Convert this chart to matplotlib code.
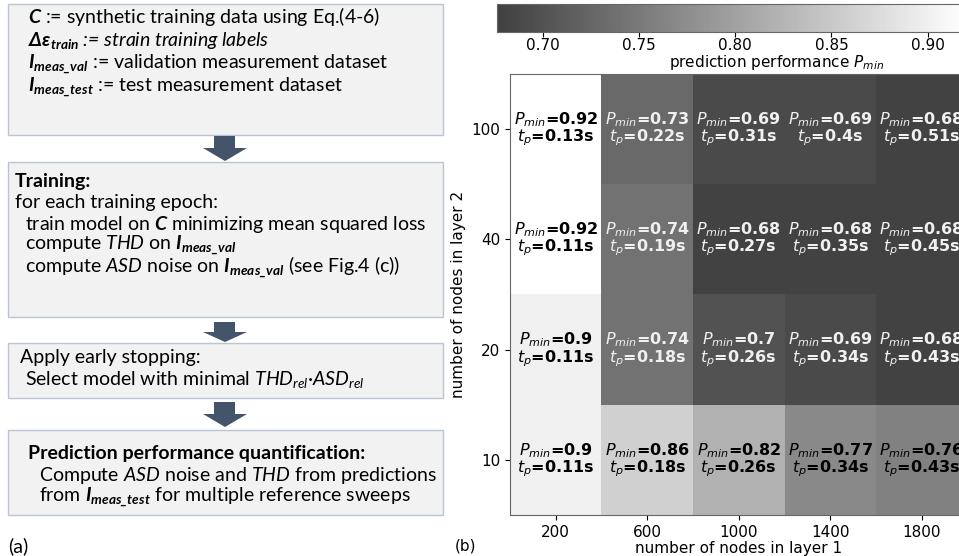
import matplotlib.pyplot as plt
import numpy as np
from matplotlib.colors import LinearSegmentedColormap
from matplotlib.patches import Rectangle, Polygon

# heatmap data (b)
layer1_nodes = [200, 600, 1000, 1400, 1800]
layer2_nodes = [100, 40, 20, 10]
p_min = [[0.92, 0.73, 0.69, 0.69, 0.68],
         [0.92, 0.74, 0.68, 0.68, 0.68],
         [0.90, 0.74, 0.70, 0.69, 0.68],
         [0.90, 0.86, 0.82, 0.77, 0.76]]
t_p = [[0.13, 0.22, 0.31, 0.40, 0.51],
       [0.11, 0.19, 0.27, 0.35, 0.45],
       [0.11, 0.18, 0.26, 0.34, 0.43],
       [0.11, 0.18, 0.26, 0.34, 0.43]]
cbar_ticks = [0.70, 0.75, 0.80, 0.85, 0.90]
p_lo, p_hi = 0.676, 0.92

# flow chart text (a)
box_lines = [
    [(28, 23, r"$\mathbfit{C}$ := synthetic training data using Eq.(4-6)", "normal", "normal"),
     (28, 46, r"$\mathbfit{\Delta\varepsilon}_{\mathbfit{train}}$ := strain training labels", "normal", "italic"),
     (28, 69, r"$\mathbfit{I}_{\mathbfit{meas\_val}}$ := validation measurement dataset", "normal", "normal"),
     (28, 92, r"$\mathbfit{I}_{\mathbfit{meas\_test}}$ := test measurement dataset", "normal", "normal")],
    [(15, 187, "Training:", "bold", "normal"),
     (15, 208, "for each training epoch:", "normal", "normal"),
     (25, 230, r"train model on $\mathbfit{C}$ minimizing mean squared loss", "normal", "normal"),
     (25, 250, r"compute $\mathit{THD}$ on $\mathbfit{I}_{\mathbfit{meas\_val}}$", "normal", "normal"),
     (25, 273, r"compute $\mathit{ASD}$ noise on $\mathbfit{I}_{\mathbfit{meas\_val}}$ (see Fig.4 (c))", "normal", "normal")],
    [(20, 363, "Apply early stopping:", "normal", "normal"),
     (25, 385, r"Select model with minimal $\mathit{THD}_{\mathit{rel}}$·$\mathit{ASD}_{\mathit{rel}}$", "normal", "normal")],
    [(28, 459, "Prediction performance quantification:", "bold", "normal"),
     (39, 481, r"Compute $\mathit{ASD}$ noise and $\mathit{THD}$ from predictions", "normal", "normal"),
     (39, 502, r"from $\mathbfit{I}_{\mathbfit{meas\_test}}$ for multiple reference sweeps", "normal", "normal")],
]

plt.rcParams['mathtext.fontset'] = 'dejavusans'
plt.rcParams['mathtext.rm'] = 'Lato'
plt.rcParams['mathtext.it'] = 'Lato:italic'
plt.rcParams['mathtext.bf'] = 'Lato:bold'
plt.rcParams['mathtext.bfit'] = 'Lato:italic:bold'

fig = plt.figure(figsize=(9.59, 5.56), dpi=100)

# ---- left: flow chart drawn in pixel coords
fl = fig.add_axes([0, 0, 1, 1])
fl.set_xlim(0, 959)
fl.set_ylim(556, 0)
fl.axis('off')

boxes = [(8, 4, 443, 135), (8, 162, 443, 317), (8, 343, 443, 398), (8, 430, 443, 515)]
for x0, y0, x1, y1 in boxes:
    fl.add_patch(Rectangle((x0, y0), x1 - x0, y1 - y0, facecolor='#f2f2f2',
                           edgecolor='#b9c4d6', lw=1.0))

arrows = [(136, 148, 161), (322, 332, 342), (402, 414, 427)]
for top, base, tip in arrows:
    fl.add_patch(Polygon([(214, top), (235, top), (235, base), (247, base),
                          (225, tip), (203, base), (214, base)],
                         closed=True, facecolor='#44546a', edgecolor='none'))

for lines in box_lines:
    for x, y, s, w, st in lines:
        fl.text(x, y, s, fontsize=14, family='Lato', fontweight=w, fontstyle=st,
                math_fontfamily='custom', va='baseline', ha='left', color='black')

fl.text(8, 546, "(a)", fontsize=14, family='Lato', va='center', ha='left')
fl.text(455, 546, "(b)", fontsize=11, va='center', ha='left')

# ---- right: heatmap
cmap = LinearSegmentedColormap.from_list('grey_w', ['#404040', '#ffffff'])
ax = fig.add_axes([510 / 959, 1 - 515 / 556, 457.5 / 959, 441 / 556])
im = ax.imshow(np.array(p_min), cmap=cmap, vmin=p_lo, vmax=p_hi, aspect='auto')
ax.set_xticks(range(len(layer1_nodes)), [str(v) for v in layer1_nodes], fontsize=11)
ax.set_yticks(range(len(layer2_nodes)), [str(v) for v in layer2_nodes], fontsize=11)
ax.set_xlabel("number of nodes in layer 1", fontsize=11, labelpad=1)
ax.set_ylabel("number of nodes in layer 2", fontsize=11)
for sp in ax.spines.values():
    sp.set_color('#666666')

for i in range(len(layer2_nodes)):
    for j in range(len(layer1_nodes)):
        col = 'black' if p_min[i][j] > 0.75 else '#f0f0f0'
        ax.text(j, i, f"$P_{{min}}$={p_min[i][j]:g}\n$t_p$={t_p[i][j]:g}s",
                ha='center', va='center', fontsize=11.5, fontweight='bold',
                color=col, linespacing=0.9)

cax = fig.add_axes([497 / 959, 1 - 32 / 556, 469 / 959, 28 / 556])
cb = fig.colorbar(im, cax=cax, orientation='horizontal')
cb.set_ticks(cbar_ticks, labels=[f"{t:.2f}" for t in cbar_ticks])
cb.ax.tick_params(labelsize=11, pad=1)
cb.outline.set_edgecolor('#666666')
cb.set_label("prediction performance $P_{min}$", fontsize=11, labelpad=0)
cax.xaxis.label.set_x(0.595)

fig.savefig("out.png", dpi=100)
